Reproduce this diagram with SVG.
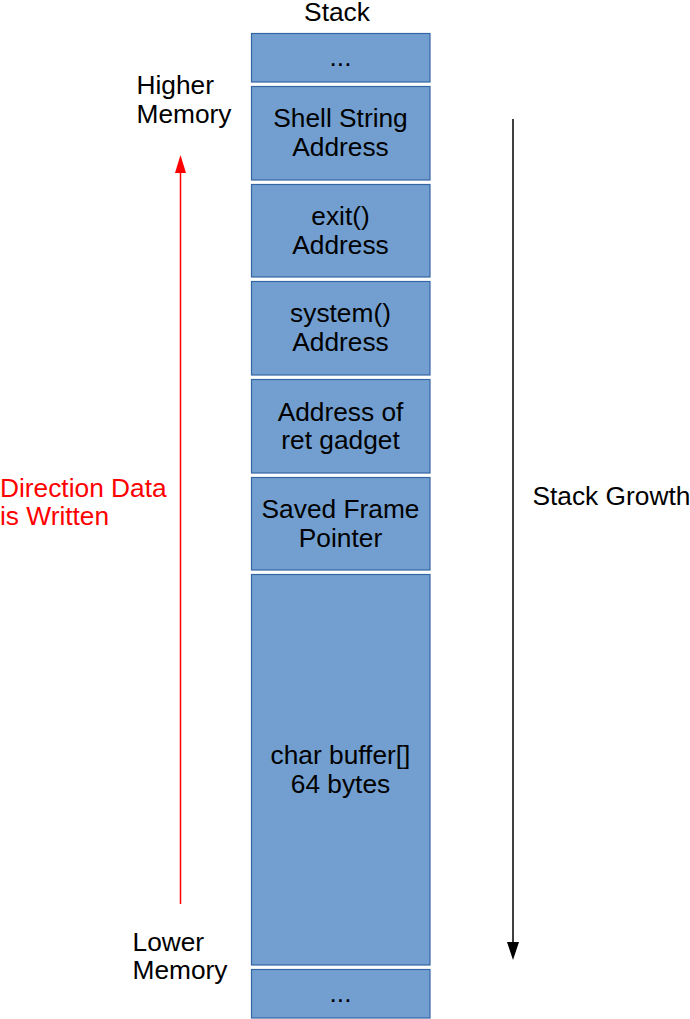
<svg xmlns="http://www.w3.org/2000/svg" width="690" height="1019" viewBox="0 0 690 1019">
<defs>
<style>
.box{fill:#729fcf;stroke:#3465a4;stroke-width:1.2}
.t{font-family:"Liberation Sans",Arial,sans-serif;font-size:26.3px;fill:#000}
.c{text-anchor:middle}
.red{fill:#ff0000}
</style>
</defs>
<rect width="690" height="1019" fill="#fff"/>
<text class="t c" x="337" y="20.5">Stack</text>
<g id="box-top"><rect class="box" x="251.5" y="33.5" width="178.5" height="48.5"/><text class="t c" x="340.5" y="66">...</text></g>
<g id="box-shell"><rect class="box" x="251.5" y="86.5" width="178.5" height="93.5"/><text class="t c" x="340.5" y="127.2">Shell String</text><text class="t c" x="340.5" y="156.2">Address</text></g>
<g id="box-exit"><rect class="box" x="251.5" y="184.5" width="178.5" height="92.5"/><text class="t c" x="340.5" y="224.7">exit()</text><text class="t c" x="340.5" y="253.7">Address</text></g>
<g id="box-system"><rect class="box" x="251.5" y="281.5" width="178.5" height="93.5"/><text class="t c" x="340.5" y="322.2">system()</text><text class="t c" x="340.5" y="351.2">Address</text></g>
<g id="box-ret"><rect class="box" x="251.5" y="379.5" width="178.5" height="93.5"/><text class="t c" x="340.5" y="420.5">Address of</text><text class="t c" x="340.5" y="449">ret gadget</text></g>
<g id="box-sfp"><rect class="box" x="251.5" y="477.5" width="178.5" height="92.5"/><text class="t c" x="340.5" y="517.7">Saved Frame</text><text class="t c" x="340.5" y="546.7">Pointer</text></g>
<g id="box-buffer"><rect class="box" x="251.5" y="574.5" width="178.5" height="390.5"/><text class="t c" x="340.5" y="764">char buffer[]</text><text class="t c" x="340.5" y="793">64 bytes</text></g>
<g id="box-bottom"><rect class="box" x="251.5" y="969.5" width="178.5" height="48.5"/><text class="t c" x="340.5" y="1002">...</text></g>
<g id="labels">
<text class="t" x="136.5" y="94.3">Higher</text><text class="t" x="136.5" y="122.7">Memory</text>
<text class="t" x="132.5" y="951">Lower</text><text class="t" x="132.5" y="979">Memory</text>
<text class="t red" x="0" y="496.7">Direction Data</text><text class="t red" x="0" y="525">is Written</text>
<text class="t" x="532.5" y="505">Stack Growth</text>
</g>
<g id="connectors">
<line x1="180.5" y1="904" x2="180.5" y2="172" stroke="#ff0000" stroke-width="1.5"/>
<path d="M180.5,155 L186,173 L175,173 Z" fill="#ff0000"/>
<line x1="513" y1="119" x2="513" y2="943" stroke="#000" stroke-width="1.5"/>
<path d="M513,960 L507,942 L519,942 Z" fill="#000"/>
</g>
</svg>
